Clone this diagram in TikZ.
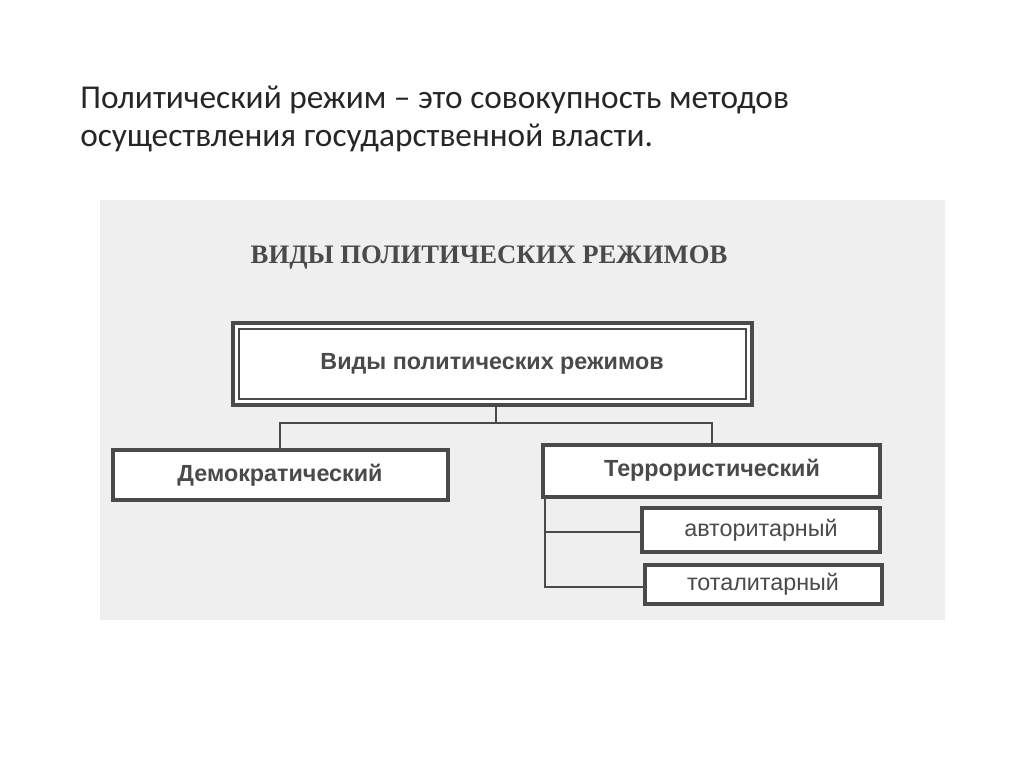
\documentclass[tikz,border=0pt]{standalone}
\usepackage{fontspec}
\setmainfont{Carlito}
\newfontfamily\arialf{Liberation Sans}
\newfontfamily\timesf{Liberation Serif}
\definecolor{scanbg}{HTML}{EFEFEF}
\definecolor{ink}{HTML}{4A4A4A}
\definecolor{titleink}{HTML}{262626}
\tikzset{
  px/.style={x=0.75pt,y=-0.75pt},
  frame/.style={draw=ink,line width=2.4pt,fill=white},
  conn/.style={draw=ink,line width=1.6pt},
  boxtext/.style={text=ink,font=\arialf\bfseries\fontsize{17.5}{20}\selectfont},
  subtext/.style={text=ink,font=\arialf\fontsize{17.5}{20}\selectfont},
  titletext/.style={anchor=west,inner sep=0pt,text=titleink,font=\fontsize{25}{30}\selectfont},
}
\begin{document}
\begin{tikzpicture}[px]
\useasboundingbox (0,0) rectangle (1024,767);
\fill[white] (0,0) rectangle (1024,767);
% title
\node[titletext] (t1) at (80,100) {Политический режим – это совокупность методов};
\node[titletext] (t2) at (80,138) {осуществления государственной власти.};
% scanned area
\fill[scanbg] (100,200) rectangle (945,620);
\node[text=ink,font=\timesf\bfseries\fontsize{20}{24}\selectfont] (head) at (489,258) {ВИДЫ ПОЛИТИЧЕСКИХ РЕЖИМОВ};
% top box
\draw[frame] (233,323) rectangle (752,405);
\draw[draw=ink,line width=1.2pt] (239,329) rectangle (746,399);
\node[boxtext] (top) at (492,364) {Виды политических режимов};
\coordinate (topb) at (496,405);
% level 2
\draw[frame] (113,450) rectangle (448,500);
\node[boxtext] (dem) at (280,475) {Демократический};
\draw[frame] (543,445) rectangle (880,497);
\node[boxtext] (ter) at (712,470) {Террористический};
\coordinate (demt) at (280,450);
\coordinate (tert) at (712,445);
\coordinate (j) at (496,423);
\draw[conn] (topb) -- (j);
\draw[conn] (demt) -- (280,423) -- (712,423) -- (tert);
% level 3
\draw[frame] (642,508) rectangle (880,552);
\node[subtext] (avt) at (761,530) {авторитарный};
\draw[frame] (645,565) rectangle (882,604);
\node[subtext] (tot) at (763,584) {тоталитарный};
\coordinate (trunk) at (545,497);
\draw[conn] (trunk) -- (545,587) -- (645,587);
\draw[conn] (545,532) -- (642,532);
\end{tikzpicture}
\end{document}
